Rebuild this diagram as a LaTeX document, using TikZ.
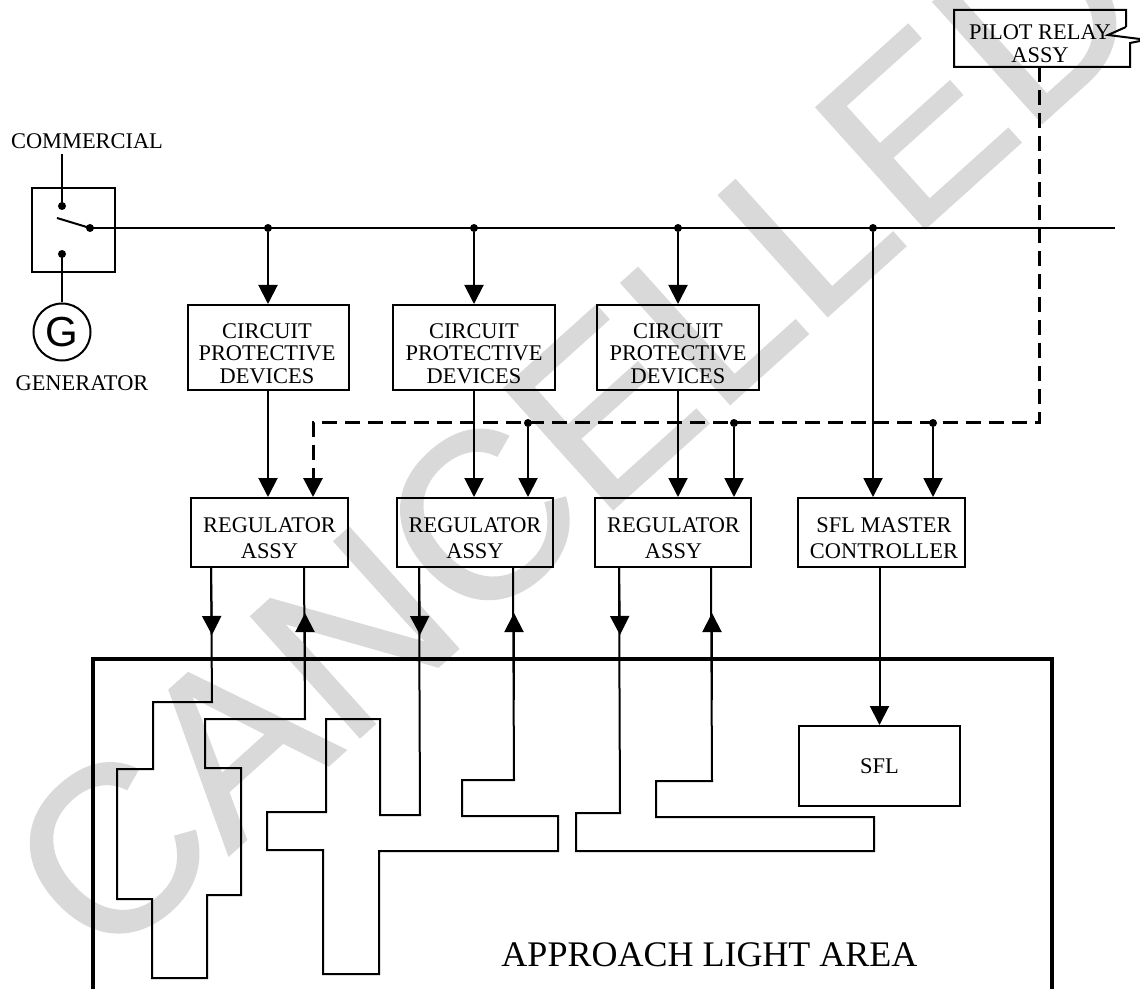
\documentclass[tikz,border=0pt]{standalone}
\usepackage{fontspec}
\setmainfont{Liberation Serif}
\newfontfamily\wmfont[FakeBold=1]{Liberation Sans}
\newfontfamily\gfont{Liberation Sans}
\usetikzlibrary{arrows.meta,calc}
\begin{document}
\begin{tikzpicture}[x=0.5pt,y=-0.5pt,
  ln/.style={line width=1pt},
  arr/.style={-{Triangle[width=9.5pt,length=9.5pt]}},
  dsh/.style={line width=1.5pt,dash pattern=on 7.5pt off 4pt},
  bx/.style 2 args={draw,line width=1pt,minimum width=#1*0.5pt,minimum height=#2*0.5pt,inner sep=0pt},
  lbl/.style={font=\fontsize{11.2}{11.25}\selectfont,inner sep=0pt,align=center},
  lblb/.style={font=\fontsize{11.2}{13}\selectfont,inner sep=0pt,align=center},
  dot/.style={circle,fill,inner sep=0pt,minimum size=4pt}
]
\useasboundingbox (0,0) rectangle (1140,989);
% watermark
\node[rotate=42,text=black!15,font=\wmfont\fontsize{118}{118}\selectfont,inner sep=0pt] (wm) at (574,435) {CANCELLED};

% switch and sources
\node[bx={83}{84}] (sw) at (73.5,230) {};
\node[lbl,anchor=base] (commercial) at (87,149) {COMMERCIAL};
\node[dot] (cTop) at (62,206) {};
\node[dot] (cBot) at (62,254) {};
\node[dot] (cCom) at (90,228) {};
\draw[ln] ([yshift=-2pt]commercial.south -| cTop) -- (cTop.center);
\draw[ln] (57,218) -- (cCom.center);
\node[draw,circle,line width=1pt,minimum size=28.5pt,inner sep=0pt,font=\gfont\fontsize{21}{21}\selectfont] (gen) at (62,332) {G};
\draw[ln] (cBot.center) -- (gen.north);
\node[lbl,anchor=base] (generator) at (82,391) {GENERATOR};

% bus
\coordinate (bend) at (1115,228);
\draw[ln] (cCom.center) -- (bend);
\node[dot] (b1) at (268,228) {};
\node[dot] (b2) at (474,228) {};
\node[dot] (b3) at (678,228) {};
\node[dot] (b4) at (873,228) {};

% circuit protective devices
\node[bx={161}{85}] (cpd1) at (268,347.5) {};
\node[bx={162}{85}] (cpd2) at (474,347.5) {};
\node[bx={162}{85}] (cpd3) at (678,347.5) {};
\node[lbl] at (267,353.5) {CIRCUIT\\PROTECTIVE\\DEVICES};
\node[lbl] at (474,353.5) {CIRCUIT\\PROTECTIVE\\DEVICES};
\node[lbl] at (678,353.5) {CIRCUIT\\PROTECTIVE\\DEVICES};
\draw[ln,arr] (b1) -- (cpd1.north);
\draw[ln,arr] (b2) -- (cpd2.north);
\draw[ln,arr] (b3) -- (cpd3.north);

% regulators and master controller
\node[bx={157}{69}] (reg1) at (269.5,532.5) {};
\node[bx={156}{69}] (reg2) at (475,532.5) {};
\node[bx={156}{69}] (reg3) at (673,532.5) {};
\node[bx={167}{69}] (sflm) at (881.5,532.5) {};
\node[lblb] at (269.5,538.5) {REGULATOR\\ASSY};
\node[lblb] at (475,538.5) {REGULATOR\\ASSY};
\node[lblb] at (673.5,538.5) {REGULATOR\\ASSY};
\node[lblb] at (884,538.5) {SFL MASTER\\CONTROLLER};
\draw[ln,arr] (cpd1.south) -- (cpd1.south |- reg1.north);
\draw[ln,arr] (cpd2.south) -- (cpd2.south |- reg2.north);
\draw[ln,arr] (cpd3.south) -- (cpd3.south |- reg3.north);
\draw[ln,arr] (b4) -- (b4 |- sflm.north);

% pilot relay
\draw[ln] (1126,27) -- (1126,10) -- (954,10) -- (954,67) -- (1130,67) -- (1130,43) -- (1140,41);
\draw[ln] (1126,27) -- (1108,35) -- (1140,39);
\node[font=\fontsize{11.2}{11.5}\selectfont,inner sep=0pt,align=center] (pr) at (1040,44) {PILOT RELAY\\ASSY};
\coordinate (prb) at (1039,67);
\coordinate (dc) at (1039,423);
\coordinate (dL) at (313,423);
\draw[dsh,arr] (prb) -- (dc) -- (dL) -- (dL |- reg1.north);
\node[dot] (d2) at (528,423) {};
\node[dot] (d3) at (734,423) {};
\node[dot] (d4) at (933,423) {};
\draw[ln,arr] (d2) -- (d2 |- reg2.north);
\draw[ln,arr] (d3) -- (d3 |- reg3.north);
\draw[ln,arr] (d4) -- (d4 |- sflm.north);

% approach light area
\draw[line width=1.7pt] (93,995) -- (93,659) -- (1052,659) -- (1052,995);
\node[font=\fontsize{18}{18}\selectfont,inner sep=0pt] (area) at (709.5,955) {APPROACH LIGHT AREA};
\node[bx={161}{80},lbl] (sfl) at (879.5,766) {SFL};
\draw[ln,arr] (sflm.south -| sfl.north) -- (sfl.north);

% light circuits
\coordinate (r1a) at ($(reg1.south west)+(21,0)$);
\coordinate (r1b) at ($(reg1.south west)+(114,0)$);
\coordinate (r2a) at ($(reg2.south west)+(23,0)$);
\coordinate (r2b) at ($(reg2.south west)+(117,0)$);
\coordinate (r3a) at ($(reg3.south west)+(25,0)$);
\coordinate (r3b) at ($(reg3.south west)+(117,0)$);
\draw[ln] (r1a) -- (212,702) -- (153,702) -- (153,769) -- (117,769) -- (117,899) -- (152,899) -- (152,978) -- (207,978) -- (207,895) -- (241,895) -- (241,768) -- (205,768) -- (205,719) -- (305,719) -- (r1b);
\draw[ln] (r2a) -- (420,815) -- (380,815) -- (380,719) -- (326,719) -- (326,812) -- (267,812) -- (267,850) -- (323,850) -- (323,974) -- (379,974) -- (379,851) -- (558,851) -- (558,816) -- (462,816) -- (462,780) -- (514,780) -- (r2b);
\draw[ln] (r3a) -- (620,813) -- (576,813) -- (576,851) -- (874,851) -- (874,817) -- (656,817) -- (656,781) -- (712,781) -- (r3b);
% mid-line arrowheads
\draw[ln,arr] (r1a) -- (212,635);
\draw[ln,arr] (r2a) -- (420,635);
\draw[ln,arr] (r3a) -- (620,635);
\draw[ln,arr] (305,700) -- (305,613);
\draw[ln,arr] (514,700) -- (514,613);
\draw[ln,arr] (712,700) -- (712,613);
\end{tikzpicture}
\end{document}
